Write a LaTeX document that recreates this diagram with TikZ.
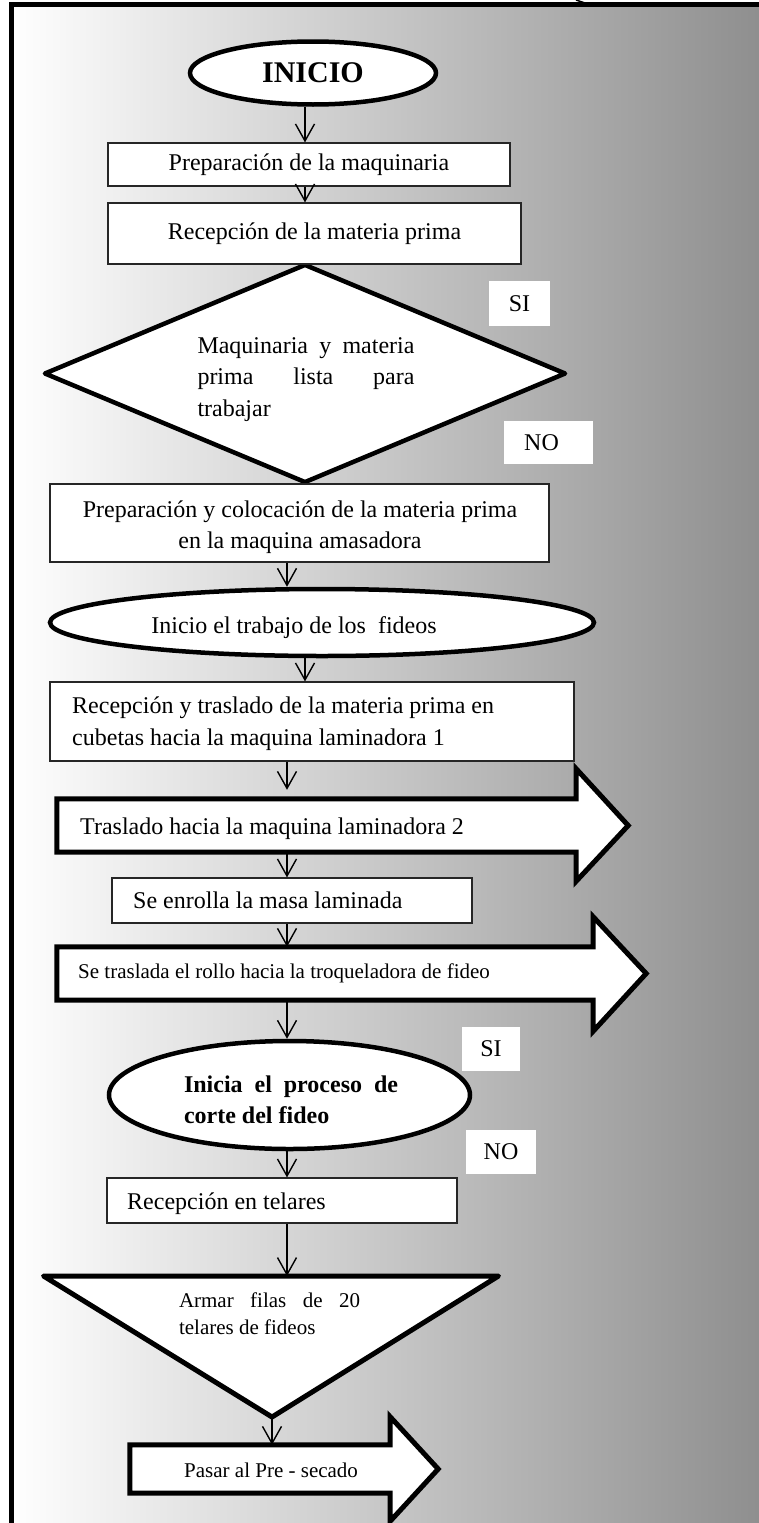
\documentclass[tikz,border=0pt]{standalone}
\usepackage{fontspec}
\setmainfont{Liberation Serif}
\usetikzlibrary{arrows.meta,calc,shapes.geometric}
\newcommand\fbig{\fontsize{30}{36}\selectfont\bfseries}
\newcommand\fmain{\fontsize{24}{31}\selectfont}
\newcommand\fsm{\fontsize{21}{27}\selectfont}
\begin{document}
\begin{tikzpicture}[x=1pt,y=-1pt,
  box/.style={draw=black!85, line width=1.2pt, fill=white, inner sep=0pt, font=\fmain},
  ell/.style={ellipse, draw=black, line width=4.5pt, fill=white, inner sep=0pt},
  lbl/.style={fill=white, inner sep=0pt, font=\fmain},
  blk/.style={draw=black, line width=5pt, fill=white},
  arr/.style={-{Straight Barb[length=17pt,width=19pt]}, line width=1.4pt},
  txt/.style={inner sep=0pt}]
\useasboundingbox (0,0) rectangle (759,1523);
% background and frame
\shade[left color=white, right color=black!44] (9,2) rectangle (759,1523);
\draw[line width=5.5pt] (9,4.5) -- (759,4.5);
\draw[line width=4.7pt] (11.7,2) -- (11.7,1523);
\draw[line width=1.5pt] (576,0) .. controls (580,1) .. (585,3);
% columns for connectors
\coordinate (colA) at (305,0);
\coordinate (colB) at (287,0);
% decision diamond
\node[diamond, draw=black, line width=4.5pt, line join=round, fill=white,
      minimum width=522pt, minimum height=219pt, inner sep=0pt] (dec) at (305,373.5) {};
\node[txt, font=\fontsize{24}{31.5}\selectfont, align=left] (dect) at (306,379.5)
  {\makebox[217pt][s]{Maquinaria y materia}\\\makebox[217pt][s]{prima lista para}\\trabajar};
\node[lbl, minimum width=61pt, minimum height=45pt] (si1) at (519.5,303.5) {SI};
\node[lbl, minimum width=89pt, minimum height=43pt] (no1) at (548.5,442.5) {\hspace*{-14pt}NO};
% start
\node[ell, minimum width=246pt, minimum height=63pt, font=\fbig] (inicio) at (313,73) {INICIO};
\node[box, minimum width=402pt, minimum height=43pt] (b1) at (309,164.5) {Preparación de la maquinaria};
\node[box, minimum width=413pt, minimum height=61pt] (b2) at (314.5,233.5) {Recepción de la materia prima};
\node[box, minimum width=499pt, minimum height=78pt] (b3) at (299.5,523) {};
\node[txt, font=\fmain, align=center] (b3t) at (300,527)
  {Preparación y colocación de la materia prima\\en la maquina amasadora};
\node[ell, minimum width=544pt, minimum height=67pt] (e2) at (322,622.5) {};
\node[txt, font=\fmain, anchor=base] (e2t) at (294,633) {Inicio el trabajo de los\ \ fideos};
\node[box, minimum width=524pt, minimum height=79pt] (b4) at (312,721.5) {};
\node[txt, font=\fontsize{24}{32}\selectfont, align=left, anchor=west] (b4t) at (72,723.5)
  {Recepción y traslado de la materia prima en\\cubetas hacia la maquina laminadora 1};
% block arrow 1
\node[txt, minimum width=519pt, minimum height=53pt] (a1) at (316.5,825.5) {};
\draw[blk] (a1.north west) -- (a1.north east) -- ++(0,-30) -- ($(a1.east)+(52,0)$)
  -- ($(a1.south east)+(0,29)$) -- (a1.south east) -- (a1.south west) -- cycle;
\node[txt, font=\fmain, anchor=base west] (a1t) at (80,834) {Traslado hacia la maquina laminadora 2};
\node[box, minimum width=360pt, minimum height=45pt] (b5) at (292,900.5) {};
\node[txt, font=\fmain, anchor=base west] (b5t) at (133,908) {Se enrolla la masa laminada};
% block arrow 2
\node[txt, minimum width=536pt, minimum height=53pt] (a2) at (325,973.5) {};
\draw[blk] (a2.north west) -- (a2.north east) -- ++(0,-30) -- ($(a2.east)+(53,0)$)
  -- ($(a2.south east)+(0,31)$) -- (a2.south east) -- (a2.south west) -- cycle;
\node[txt, font=\fsm, anchor=base west] (a2t) at (78,978) {Se traslada el rollo hacia la troqueladora de fideo};
% cutting ellipse
\node[ell, minimum width=361pt, minimum height=108pt] (e3) at (289.5,1095) {};
\node[txt, font=\fmain\bfseries, align=left] (e3t) at (291,1099.5)
  {\makebox[214pt][s]{Inicia el proceso de}\\corte del fideo};
\node[lbl, minimum width=58pt, minimum height=44pt] (si2) at (491,1049) {SI};
\node[lbl, minimum width=70pt, minimum height=44pt] (no2) at (501,1152) {NO};
\node[box, minimum width=350pt, minimum height=45pt] (b6) at (282,1200.5) {};
\node[txt, font=\fmain, anchor=base west] (b6t) at (127,1209) {Recepción en telares};
% triangle
\coordinate (tA) at (43.5,1276);
\coordinate (tB) at (498.5,1276);
\coordinate (tC) at (272,1417);
\draw[line width=5pt, fill=white, line join=round] (tA) -- (tB) -- (tC) -- cycle;
\node[txt, font=\fsm, align=left] (trit) at (269.5,1314)
  {\makebox[181pt][s]{Armar filas de 20}\\telares de fideos};
% block arrow 3
\node[txt, minimum width=260pt, minimum height=48pt] (a3) at (260,1469) {};
\draw[blk] (a3.north west) -- (a3.north east) -- ++(0,-28) -- ($(a3.east)+(48,0)$)
  -- ($(a3.south east)+(0,28)$) -- (a3.south east) -- (a3.south west) -- cycle;
\node[txt, font=\fsm, anchor=base west] (a3t) at (184,1477) {Pasar al Pre - secado};
% connectors
\draw[arr] (inicio.south -| colA) -- (b1.north -| colA);
\draw[arr] (b1.south -| colA) -- (b2.north -| colA);
\draw[arr] (b3.south -| colB) -- (e2.north -| colB);
\draw[arr] (e2.south -| colA) -- (b4.north -| colA);
\draw[arr, shorten >=9pt] (b4.south -| colB) -- (a1.north -| colB);
\draw[arr] (a1.south -| colB) -- (b5.north -| colB);
\draw[arr] (b5.south -| colB) -- (a2.north -| colB);
\draw[arr] (a2.south -| colB) -- (e3.north -| colB);
\draw[arr] (e3.south -| colB) -- (b6.north -| colB);
\draw[arr] (b6.south -| colB) -- (tA -| colB);
\draw[arr] (tC) -- (a3.north -| tC);
\end{tikzpicture}
\end{document}
